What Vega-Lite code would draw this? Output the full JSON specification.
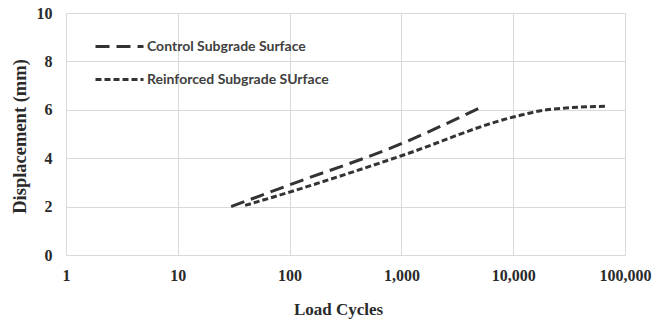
{
  "$schema": "https://vega.github.io/schema/vega-lite/v6.json",
  "width": 559,
  "height": 242,
  "autosize": {"type": "none"},
  "padding": {"left": 66, "top": 13, "right": 29, "bottom": 67},
  "background": "white",
  "config": {
    "view": {"stroke": null},
    "axis": {
      "labelFont": "Liberation Serif",
      "labelFontWeight": "bold",
      "labelFontSize": 16,
      "labelColor": "#2a2a2a",
      "titleFont": "Liberation Serif",
      "titleFontWeight": "bold",
      "titleFontSize": 17,
      "titleColor": "#2a2a2a",
      "gridColor": "#d9d9d9",
      "gridWidth": 1,
      "tickSize": 0,
      "domain": false
    }
  },
  "data": {
    "values": [
      {"cycles": 30, "disp": 2.0, "series": "Control Subgrade Surface"},
      {"cycles": 100, "disp": 2.9, "series": "Control Subgrade Surface"},
      {"cycles": 1000, "disp": 4.6, "series": "Control Subgrade Surface"},
      {"cycles": 5400, "disp": 6.15, "series": "Control Subgrade Surface"},
      {"cycles": 40, "disp": 2.05, "series": "Reinforced Subgrade SUrface"},
      {"cycles": 100, "disp": 2.6, "series": "Reinforced Subgrade SUrface"},
      {"cycles": 1000, "disp": 4.1, "series": "Reinforced Subgrade SUrface"},
      {"cycles": 10000, "disp": 5.7, "series": "Reinforced Subgrade SUrface"},
      {"cycles": 20000, "disp": 6.0, "series": "Reinforced Subgrade SUrface"},
      {"cycles": 70000, "disp": 6.15, "series": "Reinforced Subgrade SUrface"}
    ]
  },
  "mark": {"type": "line", "strokeWidth": 3, "color": "#333333", "interpolate": "monotone"},
  "encoding": {
    "x": {
      "field": "cycles",
      "type": "quantitative",
      "scale": {"type": "log", "domain": [1, 100000]},
      "axis": {
        "title": "Load Cycles",
        "values": [1, 10, 100, 1000, 10000, 100000],
        "format": ",",
        "labelPadding": 12,
        "titleX": 272,
        "titleY": 46,
        "labelFlush": false,
        "labelOverlap": false
      }
    },
    "y": {
      "field": "disp",
      "type": "quantitative",
      "scale": {"domain": [0, 10]},
      "axis": {
        "title": "Displacement (mm)",
        "titleFontSize": 18.5,
        "values": [0, 2, 4, 6, 8, 10],
        "labelPadding": 14,
        "titleX": -37,
        "titleY": 123,
        "titleAnchor": "middle"
      }
    },
    "strokeDash": {
      "field": "series",
      "type": "nominal",
      "scale": {
        "domain": ["Control Subgrade Surface", "Reinforced Subgrade SUrface"],
        "range": [[14, 7], [6, 3]]
      },
      "legend": {
        "title": null,
        "orient": "none",
        "legendX": 28,
        "legendY": 8,
        "symbolType": "stroke",
        "symbolSize": 2304,
        "symbolStrokeWidth": 3,
        "symbolStrokeColor": "#333333",
        "labelFont": "Lato",
        "labelFontSize": 14,
        "labelColor": "#404040",
        "labelFontWeight": "bold",
        "labelLimit": 400,
        "rowPadding": 0,
        "labelOffset": 2
      }
    }
  }
}
